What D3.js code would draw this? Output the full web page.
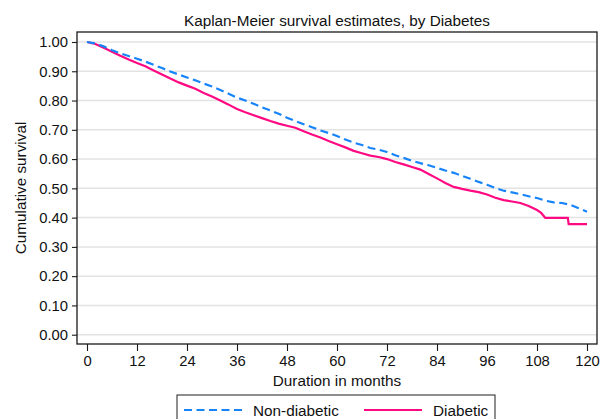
<!DOCTYPE html>
<html>
<head>
<meta charset="utf-8">
<script src="https://cdn.jsdelivr.net/npm/d3@7"></script>
<style>
  html, body { margin: 0; padding: 0; background: #fff; }
  svg { display: block; }
  text { font-family: "Liberation Sans", Arial, Helvetica, sans-serif; fill: #111; }
</style>
</head>
<body>
<svg id="chart" width="615" height="419"></svg>
<script>
// Kaplan-Meier survival estimates by diabetes status (months of follow-up)
const nonDiabeticTime = [0, 2, 4, 6, 8, 10, 12, 14, 16, 18, 20, 22, 24, 26, 28, 30, 32, 34, 36, 38, 40,
  42, 44, 46, 48, 50, 52, 54, 56, 58, 60, 62, 64, 66, 68, 70, 72, 74, 76, 78, 80,
  82, 84, 86, 88, 90, 92, 94, 96, 98, 100, 102, 104, 106, 108, 110, 112, 114, 116, 118, 120];
const nonDiabeticSurv = [1.000, 0.995, 0.985, 0.972, 0.961, 0.952, 0.943, 0.933, 0.922, 0.911, 0.899,
  0.889, 0.879, 0.869, 0.858, 0.848, 0.836, 0.823, 0.810, 0.800, 0.789,
  0.777, 0.766, 0.755, 0.741, 0.730, 0.719, 0.709, 0.698, 0.689, 0.679,
  0.667, 0.656, 0.648, 0.638, 0.632, 0.624, 0.613, 0.604, 0.594, 0.586,
  0.579, 0.570, 0.561, 0.553, 0.543, 0.533, 0.522, 0.512, 0.501, 0.492,
  0.486, 0.480, 0.473, 0.467, 0.458, 0.452, 0.450, 0.444, 0.432, 0.420];

const diabeticTime = [0, 2, 4, 6, 8, 10, 12, 14, 16, 18, 20, 22, 24, 26, 28, 30, 32, 34, 36, 38, 40,
  42, 44, 46, 48, 50, 52, 54, 56, 58, 60, 62, 64, 66, 68, 70, 72, 74, 76, 78, 80,
  82, 84, 86, 88, 90, 92, 94, 96, 98, 100, 102, 104, 106, 108, 109, 110, 115.4, 115.6, 120];
const diabeticSurv = [1.000, 0.993, 0.980, 0.967, 0.953, 0.940, 0.928, 0.917, 0.903, 0.889, 0.875,
  0.862, 0.851, 0.840, 0.826, 0.814, 0.800, 0.786, 0.771, 0.760, 0.750,
  0.740, 0.730, 0.721, 0.714, 0.707, 0.695, 0.684, 0.674, 0.662, 0.651,
  0.640, 0.628, 0.620, 0.612, 0.607, 0.600, 0.590, 0.582, 0.573, 0.564,
  0.549, 0.534, 0.518, 0.505, 0.498, 0.492, 0.487, 0.479, 0.468, 0.460,
  0.455, 0.450, 0.440, 0.426, 0.416, 0.399, 0.399, 0.378, 0.378];

const xTicks = [0, 12, 24, 36, 48, 60, 72, 84, 96, 108, 120];
const yTicks = [0, 0.1, 0.2, 0.3, 0.4, 0.5, 0.6, 0.7, 0.8, 0.9, 1.0];

const seriesNames = ["Non-diabetic", "Diabetic"];
const seriesColors = ["#1784fb", "#ff0a82"];

const svg = d3.select("#chart");
const frame = { left: 77, right: 597, top: 32, bottom: 344 };
const tickFont = 14.8, labelFont = 15.3;

const x = d3.scaleLinear().domain([0, 120]).range([87, 587]);
const y = d3.scaleLinear().domain([0, 1]).range([334.7, 42]);

// horizontal grid
svg.append("g")
  .selectAll("line")
  .data(yTicks)
  .join("line")
  .attr("x1", frame.left).attr("x2", frame.right)
  .attr("y1", d => y(d)).attr("y2", d => y(d))
  .attr("stroke", "#e3e3e3")
  .attr("stroke-width", 1.5);

// survival curves
const series = [
  { name: seriesNames[0], color: seriesColors[0], dash: "8,4.5",
    pts: nonDiabeticTime.map((t, i) => [t, nonDiabeticSurv[i]]) },
  { name: seriesNames[1], color: seriesColors[1], dash: null,
    pts: diabeticTime.map((t, i) => [t, diabeticSurv[i]]) }
];

const line = d3.line().x(d => x(d[0])).y(d => y(d[1])).curve(d3.curveLinear);

// diabetic drawn first, non-diabetic on top
[series[1], series[0]].forEach(s => {
  svg.append("path")
    .datum(s.pts)
    .attr("fill", "none")
    .attr("stroke", s.color)
    .attr("stroke-width", 2.2)
    .attr("stroke-dasharray", s.dash)
    .attr("d", line);
});

// plot frame
svg.append("rect")
  .attr("x", frame.left).attr("y", frame.top)
  .attr("width", frame.right - frame.left)
  .attr("height", frame.bottom - frame.top)
  .attr("fill", "none")
  .attr("stroke", "#1a1a1a")
  .attr("stroke-width", 1.3);

// y axis
const yAxis = d3.axisLeft(y).tickValues(yTicks).tickFormat(d3.format(".2f")).tickSize(5).tickPadding(4);
const gy = svg.append("g").attr("transform", `translate(${frame.left},0)`).call(yAxis);
gy.select(".domain").remove();
gy.selectAll(".tick line").attr("stroke", "#1a1a1a").attr("stroke-width", 1.1);
gy.selectAll(".tick text").attr("font-size", tickFont).attr("font-family", "Liberation Sans, Arial, sans-serif").attr("fill", "#111");

// x axis
const xAxis = d3.axisBottom(x).tickValues(xTicks).tickFormat(d3.format("d")).tickSize(7).tickPadding(4);
const gx = svg.append("g").attr("transform", `translate(0,${frame.bottom})`).call(xAxis);
gx.select(".domain").remove();
gx.selectAll(".tick line").attr("stroke", "#1a1a1a").attr("stroke-width", 1.1);
gx.selectAll(".tick text").attr("font-size", tickFont).attr("font-family", "Liberation Sans, Arial, sans-serif").attr("fill", "#111");

// titles
const cx = (frame.left + frame.right) / 2;
svg.append("text")
  .attr("x", cx).attr("y", 25.5)
  .attr("text-anchor", "middle")
  .attr("font-size", labelFont)
  .text("Kaplan-Meier survival estimates, by Diabetes");

svg.append("text")
  .attr("x", cx).attr("y", 385.5)
  .attr("text-anchor", "middle")
  .attr("font-size", labelFont)
  .text("Duration in months");

svg.append("text")
  .attr("transform", `translate(26,${(frame.top + frame.bottom) / 2}) rotate(-90)`)
  .attr("text-anchor", "middle")
  .attr("font-size", labelFont)
  .text("Cumulative survival");

// legend
const lg = svg.append("g");
lg.append("rect")
  .attr("x", 177).attr("y", 395)
  .attr("width", 318).attr("height", 40)
  .attr("fill", "#fff")
  .attr("stroke", "#333")
  .attr("stroke-width", 1.1);

const legendItems = [
  { s: series[0], x0: 184, x1: 243, tx: 253 },
  { s: series[1], x0: 364, x1: 422, tx: 433 }
];
legendItems.forEach(it => {
  lg.append("line")
    .attr("x1", it.x0).attr("x2", it.x1)
    .attr("y1", 410).attr("y2", 410)
    .attr("stroke", it.s.color)
    .attr("stroke-width", 2.2)
    .attr("stroke-dasharray", it.s.dash);
  lg.append("text")
    .attr("x", it.tx).attr("y", 415.5)
    .attr("font-size", labelFont)
    .text(it.s.name);
});
</script>
</body>
</html>
